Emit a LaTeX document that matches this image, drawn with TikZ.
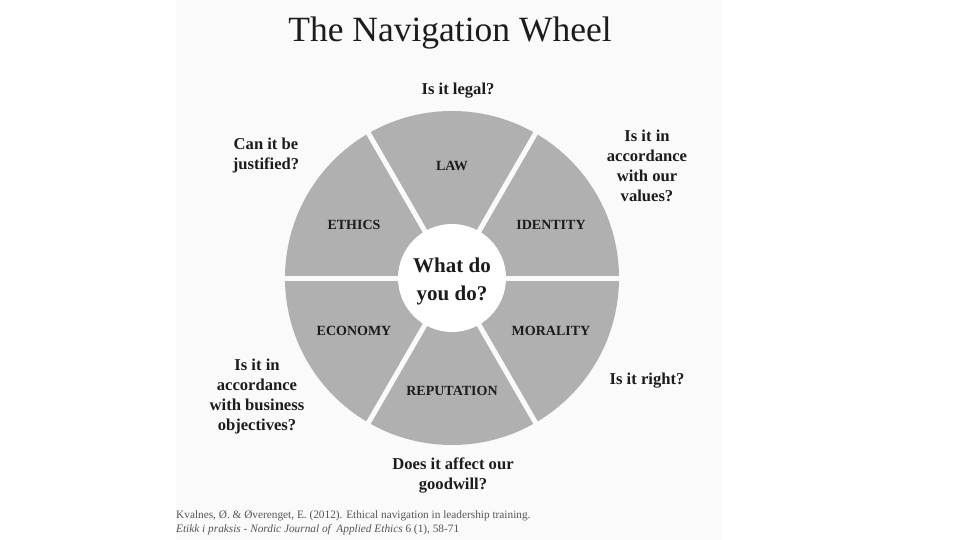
\documentclass[tikz,border=0pt]{standalone}
\usepackage{fontspec}
\setmainfont{Liberation Serif}
\definecolor{panel}{RGB}{250,250,250}
\definecolor{wedge}{RGB}{176,176,176}
\definecolor{ink}{RGB}{28,28,28}
\definecolor{citeink}{RGB}{85,85,85}
\begin{document}
\begin{tikzpicture}[x=1pt,y=-1pt,
  question/.style={font=\fontsize{16.6}{20}\selectfont\bfseries, align=center, text=ink, inner sep=0pt},
  sector/.style={font=\fontsize{14}{15}\selectfont\bfseries, text=ink, inner sep=0pt},
  centre/.style={font=\fontsize{21}{28}\selectfont\bfseries, align=center, text=ink, inner sep=0pt},
  divider/.style={draw=panel, line width=5pt},
  citestyle/.style={anchor=base west, inner sep=0pt, text=citeink, font=\fontsize{11.3}{13}\selectfont}
]
\useasboundingbox (0,0) rectangle (960,540);
\fill[white] (0,0) rectangle (960,540);
\fill[panel] (176,0) rectangle (722,540);
% title
\node[font=\fontsize{35.5}{40}\selectfont, text=ink, inner sep=0pt] (title) at (450,33) {The Navigation Wheel};
% wheel
\coordinate (c) at (452,278);
\fill[wedge] (c) circle[radius=167];
\foreach \a in {0,60,...,300} \draw[divider] (c) -- ++(\a:171);
\fill[white] (c) circle[radius=54];
% sector labels
\node[sector] (law) at (452,166) {LAW};
\node[sector] (ethics) at (354,225) {ETHICS};
\node[sector] (identity) at (551,225) {IDENTITY};
\node[sector] (economy) at (354,331) {ECONOMY};
\node[sector] (morality) at (551,331) {MORALITY};
\node[sector] (reputation) at (452,391) {REPUTATION};
\node[centre] (what) at (452,281) {What do\\you do?};
% questions
\node[question] (qlaw) at (458,91) {Is it legal?};
\node[question] (qethics) at (266,156) {Can it be\\justified?};
\node[question] (qidentity) at (647,166) {Is it in\\accordance\\with our\\values?};
\node[question] (qmorality) at (647,381) {Is it right?};
\node[question] (qeconomy) at (257,397) {Is it in\\accordance\\with business\\objectives?};
\node[question] (qreputation) at (453,475) {Does it affect our\\goodwill?};
% citation
\node[citestyle] (cite1) at (176,518) {Kvalnes, Ø. \& Øverenget, E. (2012). Ethical navigation in leadership training.};
\node[citestyle] (cite2) at (176,532) {\textit{Etikk i praksis - Nordic Journal of \ Applied Ethics} 6 (1), 58-71};
\end{tikzpicture}
\end{document}
